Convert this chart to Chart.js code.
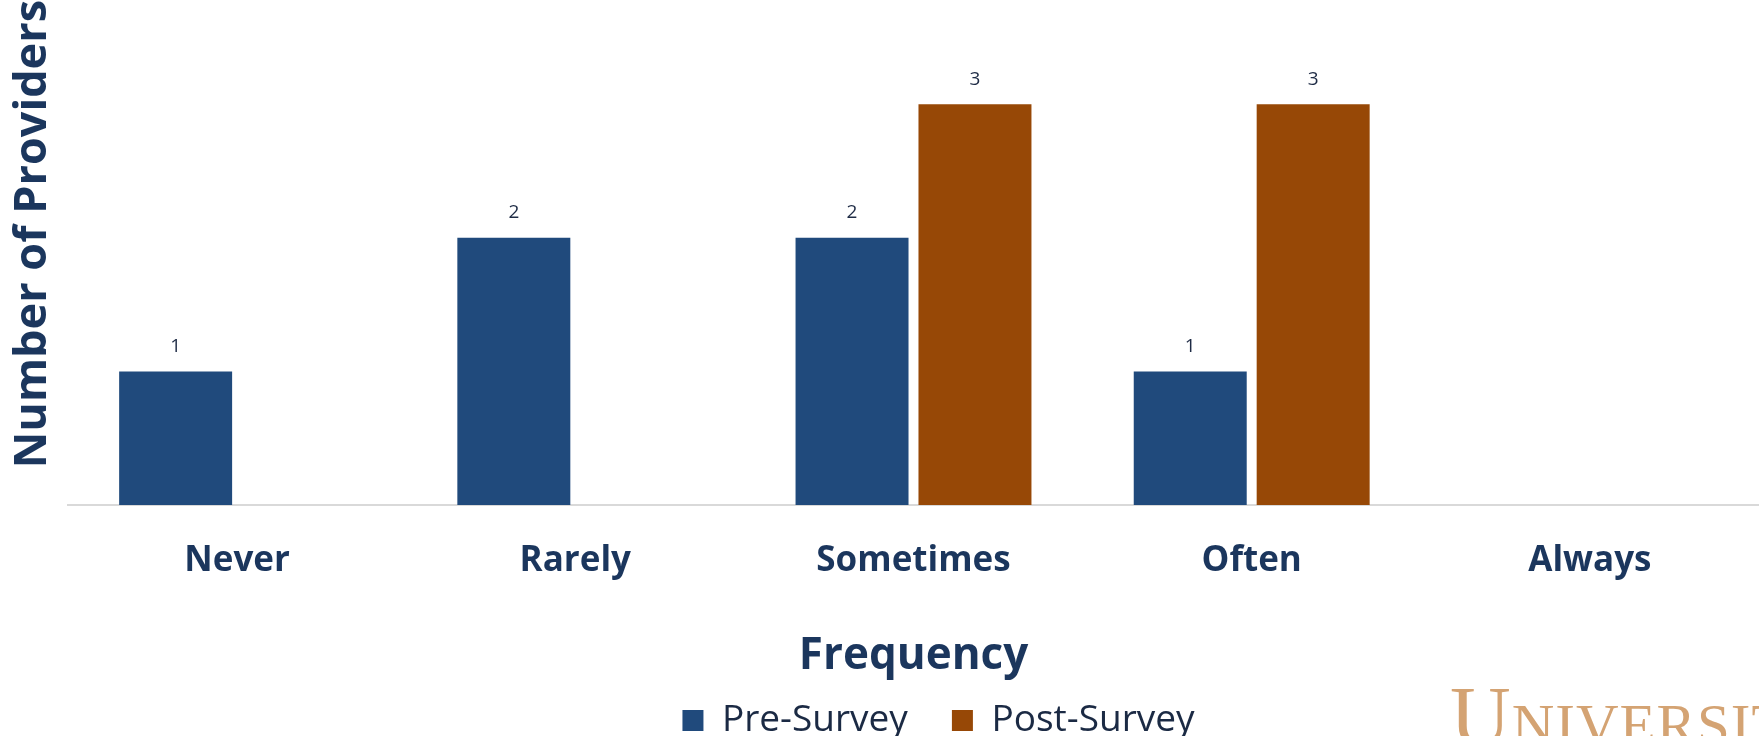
<!DOCTYPE html>
<html>
<head>
<meta charset="utf-8">
<script src="https://cdn.jsdelivr.net/npm/chart.js@4.4.1/dist/chart.umd.min.js"></script>
<style>
  html, body { margin: 0; padding: 0; background: #ffffff; }
  #wrap { position: relative; width: 1759px; height: 736px; overflow: hidden; }
  #logo {
    position: absolute; left: 1450px; top: 675px;
    font-family: "Liberation Serif", serif; font-variant: small-caps;
    font-size: 84px; line-height: 1; color: #d09a64; opacity: 0.9;
    white-space: nowrap; letter-spacing: 1px;
  }
</style>
</head>
<body>
<div id="wrap">
  <canvas id="chart" width="1759" height="736"></canvas>
  <div id="logo">University</div>
</div>
<script>
const categories = ['Never', 'Rarely', 'Sometimes', 'Often', 'Always'];
const preSurvey = [1, 2, 2, 1, 0];
const postSurvey = [0, 0, 3, 3, 0];
const seriesNames = ['Pre-Survey', 'Post-Survey'];

const navy = '#1b365d';

// value labels above each bar (no datalabels plugin offline)
const barLabels = {
    id: 'barLabels',
    afterDatasetsDraw(chart) {
        const ctx = chart.ctx;
        ctx.save();
        ctx.font = '19px "Open Sans"';
        ctx.fillStyle = '#1e2b45';
        ctx.textAlign = 'center';
        ctx.textBaseline = 'middle';
        chart.data.datasets.forEach((ds, i) => {
            chart.getDatasetMeta(i).data.forEach((bar, j) => {
                const v = ds.data[j];
                if (!v) return;
                ctx.fillText(String(v), bar.x, bar.y - 25);
            });
        });
        ctx.restore();
    }
};

// nudge legend to the right, like the original
const legendShift = {
    id: 'legendShift',
    afterLayout(chart) {
        if (!chart.legend) return;
        chart.legend.left += 56;
        chart.legend.right += 56;
    }
};

new Chart(document.getElementById('chart'), {
    type: 'bar',
    data: {
        labels: categories,
        datasets: [
            { label: seriesNames[0], data: preSurvey, backgroundColor: '#204a7c', borderWidth: 0 },
            { label: seriesNames[1], data: postSurvey, backgroundColor: '#974806', borderWidth: 0 }
        ]
    },
    options: {
        responsive: false,
        animation: false,
        categoryPercentage: 0.727,
        barPercentage: 0.919,
        layout: { padding: { top: 0, left: 6, right: 0, bottom: -13 } },
        plugins: {
            legend: {
                position: 'bottom',
                labels: {
                    font: { family: 'Open Sans', size: 37 },
                    color: '#1b2a44',
                    boxWidth: 21,
                    boxHeight: 21,
                    padding: 44
                }
            },
            tooltip: { enabled: false }
        },
        scales: {
            x: {
                grid: { display: false, drawTicks: false },
                border: { display: true, color: '#d9d9d9', width: 2 },
                ticks: {
                    font: { family: 'Open Sans', size: 35, weight: 'bold' },
                    color: navy,
                    padding: 35
                },
                title: {
                    display: true,
                    text: 'Frequency',
                    font: { family: 'Open Sans', size: 44, weight: 'bold' },
                    color: navy,
                    padding: { top: 12.6, bottom: -24.4 }
                }
            },
            y: {
                min: 0,
                max: 3.78,
                grid: { display: false },
                border: { display: false },
                ticks: { display: false },
                title: {
                    display: true,
                    text: 'Number of Providers',
                    align: 'end',
                    font: { family: 'Open Sans', size: 45, weight: 'bold' },
                    color: navy,
                    padding: { top: 0, bottom: 0 }
                }
            }
        }
    },
    plugins: [barLabels, legendShift]
});
</script>
</body>
</html>
